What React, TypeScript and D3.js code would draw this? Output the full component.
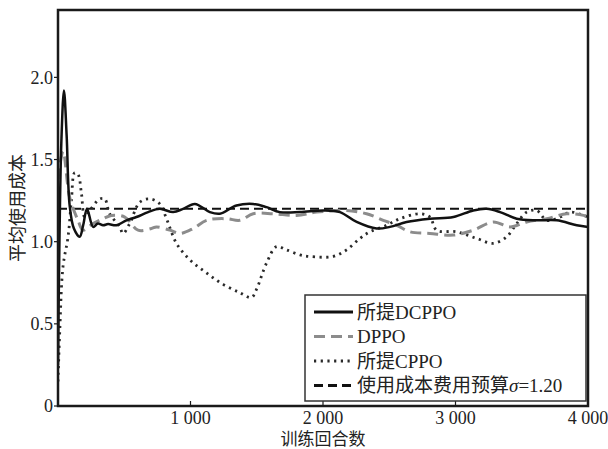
import React, { useEffect, useRef } from 'react';
import * as d3 from 'd3';

// episodes / values
const dcppoX = [0, 10, 25, 45, 65, 88, 120, 164, 190, 219, 265, 302, 340, 378, 441, 517, 592, 680, 768, 869, 944, 1033, 1146, 1221, 1347, 1473, 1574, 1674, 1826, 2002, 2128, 2254, 2405, 2505, 2631, 2807, 2984, 3134, 3236, 3336, 3462, 3613, 3764, 3915, 4000];
const dcppoY = [0.25, 0.95, 1.6, 1.92, 1.65, 1.22, 1.08, 1.03, 1.1, 1.2, 1.09, 1.11, 1.1, 1.107, 1.1, 1.13, 1.15, 1.18, 1.2, 1.18, 1.2, 1.23, 1.18, 1.17, 1.22, 1.23, 1.21, 1.18, 1.18, 1.19, 1.18, 1.12, 1.08, 1.09, 1.12, 1.14, 1.15, 1.19, 1.2, 1.18, 1.14, 1.13, 1.13, 1.1, 1.09];

const dppoX = [0, 38, 88, 151, 189, 264, 340, 403, 504, 604, 705, 743, 844, 919, 1020, 1121, 1272, 1372, 1473, 1624, 1800, 1952, 2178, 2329, 2455, 2556, 2657, 2807, 2984, 3134, 3285, 3411, 3537, 3689, 3840, 3966, 4000];
const dppoY = [1.38, 1.55, 1.27, 1.13, 1.07, 1.11, 1.14, 1.16, 1.15, 1.07, 1.08, 1.09, 1.07, 1.05, 1.08, 1.13, 1.14, 1.13, 1.17, 1.17, 1.16, 1.18, 1.19, 1.17, 1.13, 1.1, 1.06, 1.05, 1.04, 1.07, 1.12, 1.09, 1.12, 1.14, 1.17, 1.16, 1.15];

const cppoX = [0, 13, 38, 76, 101, 126, 151, 176, 202, 239, 315, 353, 390, 466, 491, 541, 617, 693, 768, 819, 894, 995, 1121, 1246, 1372, 1460, 1498, 1574, 1649, 1725, 1826, 1901, 2077, 2178, 2279, 2354, 2480, 2581, 2732, 2807, 2858, 3009, 3160, 3285, 3386, 3462, 3537, 3613, 3689, 3789, 3865, 3966, 4000];
const cppoY = [0.15, 0.45, 0.85, 1.03, 1.25, 1.42, 1.41, 1.3, 1.15, 1.19, 1.26, 1.26, 1.17, 1.09, 1.05, 1.11, 1.24, 1.26, 1.23, 1.14, 0.99, 0.89, 0.81, 0.74, 0.69, 0.66, 0.71, 0.87, 0.97, 0.95, 0.92, 0.91, 0.91, 0.95, 1.02, 1.06, 1.1, 1.14, 1.17, 1.15, 1.07, 1.06, 1.02, 0.99, 1.03, 1.11, 1.18, 1.19, 1.13, 1.15, 1.18, 1.16, 1.15];

const budget = 1.2;
const xTicks = [1000, 2000, 3000, 4000];
const xTickLabels = ['1 000', '2 000', '3 000', '4 000'];
const yTicks = [0, 0.5, 1.0, 1.5, 2.0];
const yTickLabels = ['0', '0.5', '1.0', '1.5', '2.0'];
const legendLabels = ['所提DCPPO', 'DPPO', '所提CPPO', '使用成本费用预算'];

const FONT = '"Liberation Serif", "Noto Sans CJK SC", serif';

const App = () => {
  const ref = useRef<SVGSVGElement>(null);

  useEffect(() => {
    const width = 608;
    const height = 449;
    const m = { left: 58, right: 20, top: 10, bottom: 43 };

    const svg = d3.select(ref.current);
    svg.selectAll('*').remove();
    svg.attr('width', width).attr('height', height);

    const x = d3.scaleLinear().domain([0, 4000]).range([m.left, width - m.right]);
    const y = d3.scaleLinear().domain([0, 2.41]).range([height - m.bottom, m.top]);

    const line = d3.line<[number, number]>()
      .x(d => x(d[0]))
      .y(d => y(d[1]))
      .curve(d3.curveCatmullRom.alpha(0.5));

    const zip = (xs: number[], ys: number[]) => xs.map((v, i) => [v, ys[i]] as [number, number]);

    const plot = svg.append('g');
    plot.append('clipPath').attr('id', 'clip')
      .append('rect')
      .attr('x', x(0)).attr('y', y(2.41))
      .attr('width', x(4000) - x(0)).attr('height', y(0) - y(2.41));

    const g = plot.append('g').attr('clip-path', 'url(#clip)');

    // budget line
    g.append('line')
      .attr('x1', x(0)).attr('x2', x(4000))
      .attr('y1', y(budget)).attr('y2', y(budget))
      .attr('stroke', '#111').attr('stroke-width', 2).attr('stroke-dasharray', '9,5');

    g.append('path')
      .attr('d', line(zip(cppoX, cppoY)))
      .attr('fill', 'none').attr('stroke', '#2a2a2a').attr('stroke-width', 2.8)
      .attr('stroke-dasharray', '2.2,4.5').attr('stroke-linecap', 'butt');

    g.append('path')
      .attr('d', line(zip(dppoX, dppoY)))
      .attr('fill', 'none').attr('stroke', '#8c8c8c').attr('stroke-width', 3)
      .attr('stroke-dasharray', '11,6');

    g.append('path')
      .attr('d', line(zip(dcppoX, dcppoY)))
      .attr('fill', 'none').attr('stroke', '#111').attr('stroke-width', 2.5);

    // frame
    svg.append('rect')
      .attr('x', x(0)).attr('y', y(2.41))
      .attr('width', x(4000) - x(0)).attr('height', y(0) - y(2.41))
      .attr('fill', 'none').attr('stroke', '#1a1a1a').attr('stroke-width', 2.5);

    // x ticks (inward)
    const xa = svg.append('g');
    xTicks.forEach((t, i) => {
      xa.append('line')
        .attr('x1', x(t)).attr('x2', x(t))
        .attr('y1', y(0)).attr('y2', y(0) - 5)
        .attr('stroke', '#1a1a1a').attr('stroke-width', 1.2);
      xa.append('text')
        .attr('x', x(t)).attr('y', y(0) + 18)
        .attr('text-anchor', 'middle')
        .style('font-family', FONT).style('font-size', '18px').style('fill', '#222')
        .text(xTickLabels[i]);
    });

    // y ticks (outward)
    const ya = svg.append('g');
    yTicks.forEach((t, i) => {
      ya.append('line')
        .attr('x1', x(0)).attr('x2', x(0) - 4)
        .attr('y1', y(t)).attr('y2', y(t))
        .attr('stroke', '#1a1a1a').attr('stroke-width', 1.2);
      ya.append('text')
        .attr('x', x(0) - 5).attr('y', y(t)).attr('dy', '0.35em')
        .attr('text-anchor', 'end')
        .style('font-family', FONT).style('font-size', '18px').style('fill', '#222')
        .text(yTickLabels[i]);
    });

    svg.append('text')
      .attr('x', (x(0) + x(4000)) / 2).attr('y', height - 4)
      .attr('text-anchor', 'middle')
      .style('font-family', FONT).style('font-size', '17px').style('fill', '#222')
      .text('训练回合数');

    svg.append('text')
      .attr('transform', `translate(24,${(y(0) + y(2.41)) / 2}) rotate(-90)`)
      .attr('text-anchor', 'middle')
      .style('font-family', FONT).style('font-size', '18px').style('fill', '#222')
      .text('平均使用成本');

    // legend
    const lg = svg.append('g').attr('transform', 'translate(305,295)');
    lg.append('rect')
      .attr('width', 281).attr('height', 106)
      .attr('fill', '#fff').attr('stroke', '#333').attr('stroke-width', 1.5);

    const styles = [
      { stroke: '#111', w: 3, dash: null },
      { stroke: '#8c8c8c', w: 3, dash: '11,6' },
      { stroke: '#2a2a2a', w: 2.8, dash: '2.2,4.5' },
      { stroke: '#111', w: 3, dash: '9,5' },
    ];
    legendLabels.forEach((lab, i) => {
      const cy = 17 + i * 24.5;
      const s = styles[i];
      const l = lg.append('line')
        .attr('x1', 9).attr('x2', 48).attr('y1', cy).attr('y2', cy)
        .attr('stroke', s.stroke).attr('stroke-width', s.w);
      if (s.dash) l.attr('stroke-dasharray', s.dash);
      const tx = lg.append('text')
        .attr('x', 52).attr('y', cy).attr('dy', '0.35em')
        .style('font-family', FONT).style('font-size', '19px').style('fill', '#222')
        .text(lab);
      if (i === 3) {
        tx.append('tspan').style('font-style', 'italic').text('σ');
        tx.append('tspan').text('=1.20');
      }
    });
  }, []);

  return (
    <div style={{ position: 'absolute', left: 0, top: 0 }}>
      <svg ref={ref}></svg>
    </div>
  );
};

export default App;
